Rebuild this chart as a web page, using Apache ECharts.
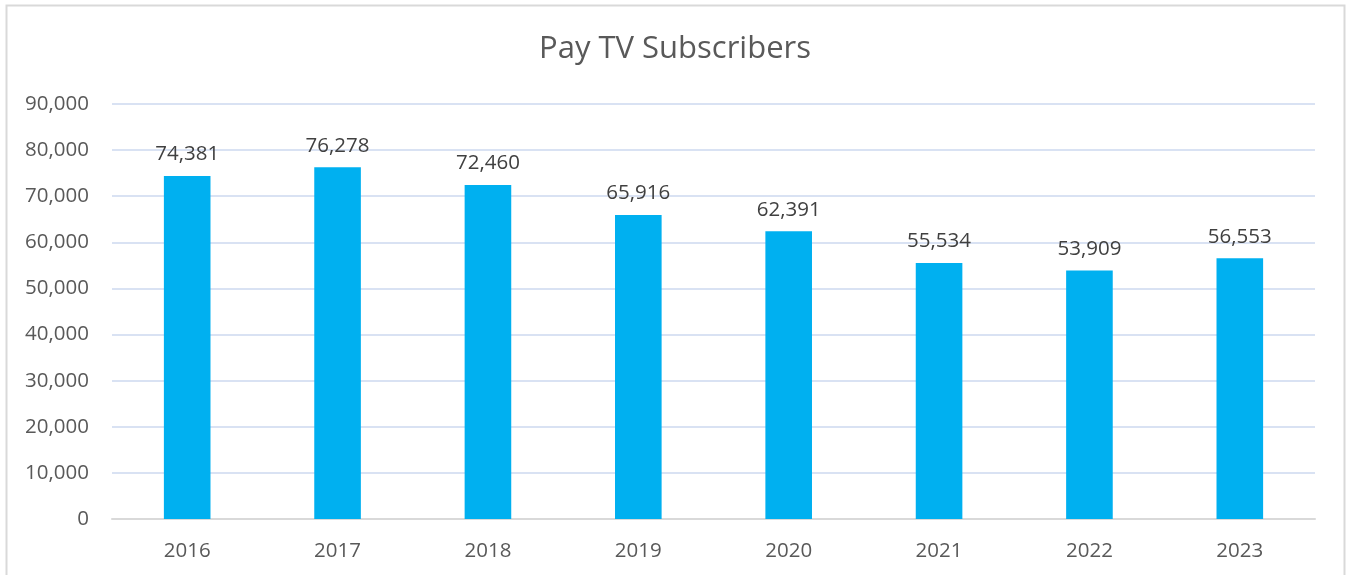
<!DOCTYPE html>
<html><head><meta charset="utf-8">
<script src="https://cdn.jsdelivr.net/npm/echarts@6/dist/echarts.min.js"></script>
<style>html,body{margin:0;padding:0;background:#fff}#c{width:1350px;height:575px}</style>
</head><body><div id="c"></div>
<script>
const categories = ['2016','2017','2018','2019','2020','2021','2022','2023'];
const subscribers = [74381, 76278, 72460, 65916, 62391, 55534, 53909, 56553];
const yTicks = [0, 10000, 20000, 30000, 40000, 50000, 60000, 70000, 80000, 90000];

const fmt = v => v.toLocaleString('en-US');
const chart = echarts.init(document.getElementById('c'));
chart.setOption({
  animation: false,
  backgroundColor: '#fff',
  textStyle: { fontFamily: 'Open Sans' },
  title: {
    text: 'Pay TV Subscribers', left: 'center', top: 29,
    textStyle: { fontFamily: 'Open Sans', fontSize: 31, fontWeight: 'normal', color: '#595959' }
  },
  graphic: [{ type: 'rect', shape: { x: 6.5, y: 5.5, width: 1338, height: 620 },
    style: { fill: 'none', stroke: '#d9d9d9', lineWidth: 2 }, silent: true }],
  grid: { left: 112, right: 35, top: 104, bottom: 56, containLabel: false },
  xAxis: {
    type: 'category', data: categories,
    axisLine: { lineStyle: { color: '#d9d9d9', width: 2 } },
    axisTick: { show: false },
    axisLabel: { color: '#595959', fontSize: 20.5, margin: 22, fontFamily: 'Open Sans' }
  },
  yAxis: {
    type: 'value', min: yTicks[0], max: yTicks[yTicks.length - 1], interval: yTicks[1] - yTicks[0],
    axisLine: { show: false }, axisTick: { show: false },
    axisLabel: { color: '#595959', fontSize: 20.5, margin: 23, fontFamily: 'Open Sans', formatter: v => fmt(v) },
    splitLine: { lineStyle: { color: '#d9e2f3', width: 2 } }
  },
  series: [{
    type: 'bar', data: subscribers, barWidth: '31%',
    itemStyle: { color: '#00b0f0' },
    label: { show: true, position: 'top', distance: 11, color: '#404040', fontSize: 20.5,
      fontFamily: 'Open Sans', formatter: p => fmt(p.value) }
  }]
});
</script></body></html>
